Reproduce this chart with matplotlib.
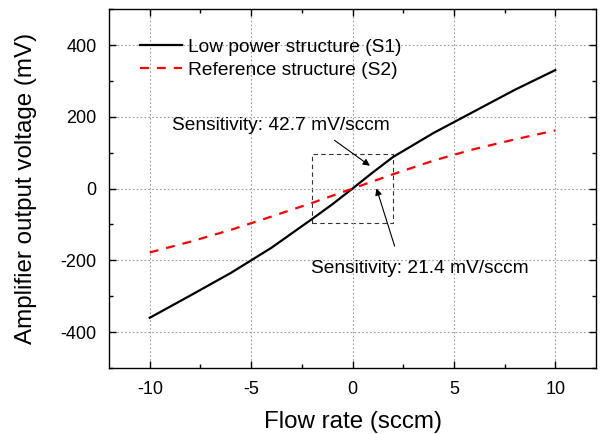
import matplotlib
matplotlib.use('Agg')
import matplotlib.pyplot as plt
from matplotlib.patches import Rectangle
from matplotlib.ticker import MultipleLocator

plt.rcParams['font.family'] = ['Liberation Sans', 'DejaVu Sans']
plt.rcParams['axes.unicode_minus'] = False

# flow rate (sccm)
flow = [-10, -8, -6, -4, -2, -1, 0, 1, 2, 4, 6, 8, 10]
# amplifier output (mV)
s1 = [-360, -298, -235, -165, -85, -44, 0, 45, 88, 155, 215, 275, 330]
s2 = [-178, -148, -115, -78, -40, -20, 0, 20, 40, 78, 110, 137, 162]

label_s1 = 'Low power structure (S1)'
label_s2 = 'Reference structure (S2)'
note_s1 = 'Sensitivity: 42.7 mV/sccm'
note_s2 = 'Sensitivity: 21.4 mV/sccm'

fig = plt.figure(figsize=(6, 4.34), dpi=100)
ax = fig.add_axes([0.182, 0.152, 0.811, 0.827])

ax.plot(flow, s1, color='black', lw=1.6, label=label_s1)
ax.plot(flow, s2, color='red', lw=1.6, ls=(0, (4, 3.6)), label=label_s2)

# zoom box around origin
ax.add_patch(Rectangle((-2, -95), 4, 190, fill=False, ec='#333333',
                       lw=0.8, ls=(0, (4, 3))))

ax.annotate(note_s1, xy=(0.97, 59), xytext=(-8.9, 176),
            fontsize=13.8, va='center', ha='left')
ax.annotate('', xy=(0.97, 59), xytext=(-1.0, 139),
            arrowprops=dict(arrowstyle='-|>', color='black', lw=0.8,
                            mutation_scale=10))
ax.annotate(note_s2, xy=(1.14, 8), xytext=(-2.05, -223),
            fontsize=13.8, va='center', ha='left')
ax.annotate('', xy=(1.14, 8), xytext=(2.12, -168),
            arrowprops=dict(arrowstyle='-|>', color='black', lw=0.8,
                            mutation_scale=10))

ax.set_xlim(-12, 12)
ax.set_ylim(-500, 500)
ax.xaxis.set_major_locator(MultipleLocator(5))
ax.xaxis.set_minor_locator(MultipleLocator(2.5))
ax.yaxis.set_major_locator(MultipleLocator(200))
ax.yaxis.set_minor_locator(MultipleLocator(100))
ax.tick_params(which='both', direction='in', top=True, right=True,
               labelsize=13, width=1, pad=9)
ax.tick_params(which='major', length=5)
ax.tick_params(which='minor', length=3)
ax.grid(True, which='major', color='#999999', ls=(0, (1.5, 2)), lw=0.8)
for sp in ax.spines.values():
    sp.set_linewidth(1.0)

ax.set_xlabel('Flow rate (sccm)', fontsize=17.4, labelpad=10)
ax.set_ylabel('Amplifier output voltage (mV)', fontsize=17.4, labelpad=17)

ax.legend(loc='upper left', frameon=False, fontsize=13.8, handlelength=2.2,
          handletextpad=0.3, borderaxespad=0.0, labelspacing=0.3,
          bbox_to_anchor=(0.048, 0.94))

fig.savefig('out.png', dpi=100)
